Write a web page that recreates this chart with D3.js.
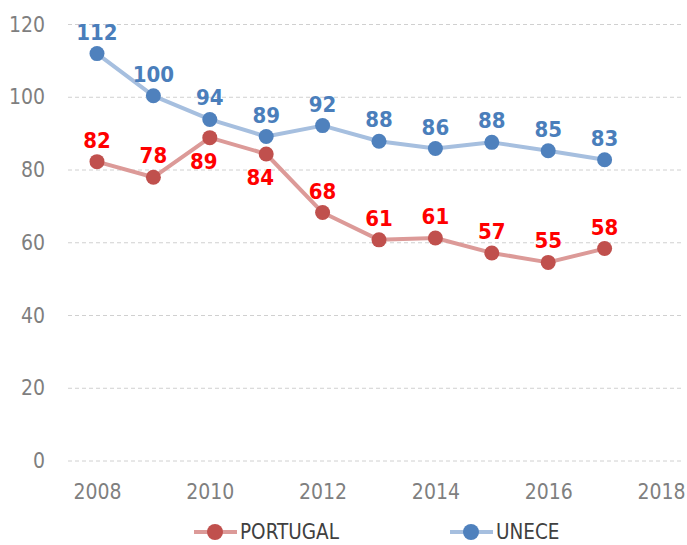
<!DOCTYPE html>
<html>
<head>
<meta charset="utf-8">
<script src="https://cdn.jsdelivr.net/npm/d3@7"></script>
<style>
  body { margin: 0; background: #fff; }
  text { font-family: "Liberation Sans Narrow", "DejaVu Sans Condensed", Arial, sans-serif; }
</style>
</head>
<body>
<div id="chart"></div>
<script>
// values
var years = [2008, 2009, 2010, 2011, 2012, 2013, 2014, 2015, 2016, 2017];
var portugal = [82.3, 78.0, 88.9, 84.4, 68.3, 60.8, 61.3, 57.2, 54.6, 58.4];
var unece = [112.0, 100.4, 93.9, 89.2, 92.2, 87.9, 85.9, 87.6, 85.3, 82.8];
var yTicks = [0, 20, 40, 60, 80, 100, 120];
var xTicks = [2008, 2010, 2012, 2014, 2016, 2018];
// label placement for portugal: below the point for 2010, 2011
var portugalBelow = [false, false, true, true, false, false, false, false, false, false];

var width = 687, height = 545;

var svg = d3.select("#chart").append("svg")
  .attr("width", width)
  .attr("height", height);

var x = d3.scaleLinear().domain([2007.486, 2018.39]).range([68, 683]);
var y = d3.scaleLinear().domain([0, 120]).range([461, 24.5]);

// gridlines
svg.append("g").selectAll("line")
  .data(yTicks)
  .enter().append("line")
  .attr("x1", x.range()[0])
  .attr("x2", x.range()[1])
  .attr("y1", function(d) { return y(d); })
  .attr("y2", function(d) { return y(d); })
  .attr("stroke", "#d0d0d0")
  .attr("stroke-width", 1)
  .attr("stroke-dasharray", "4,3");

// y axis labels
var yAxis = d3.axisLeft(y).tickValues(yTicks).tickSize(0).tickPadding(0);
svg.append("g")
  .attr("transform", "translate(45,0)")
  .call(yAxis)
  .call(function(g) { g.select(".domain").remove(); })
  .selectAll("text")
  .attr("font-size", 21)
  .attr("fill", "#7f7f7f")
  .attr("font-family", null);

// x axis labels
var xAxis = d3.axisBottom(x).tickValues(xTicks).tickFormat(d3.format("d")).tickSize(0).tickPadding(0);
svg.append("g")
  .attr("transform", "translate(0,484)")
  .call(xAxis)
  .call(function(g) { g.select(".domain").remove(); })
  .selectAll("text")
  .attr("font-size", 21)
  .attr("fill", "#7f7f7f")
  .attr("font-family", null);

var series = [
  { name: "PORTUGAL", values: portugal, line: "#dc9a98", dot: "#c0504d", label: "#ff0000", below: portugalBelow },
  { name: "UNECE", values: unece, line: "#a6bfdf", dot: "#4f81bd", label: "#4a7ebb", below: years.map(function() { return false; }) }
];

var line = d3.line()
  .x(function(d) { return x(d.year); })
  .y(function(d) { return y(d.value); });

var fmt = d3.format(".0f");

series.forEach(function(s) {
  var pts = years.map(function(yr, i) { return { year: yr, value: s.values[i], below: s.below[i] }; });

  svg.append("path")
    .datum(pts)
    .attr("fill", "none")
    .attr("stroke", s.line)
    .attr("stroke-width", 4)
    .attr("stroke-linejoin", "round")
    .attr("d", line);

  svg.append("g").selectAll("circle")
    .data(pts)
    .enter().append("circle")
    .attr("cx", function(d) { return x(d.year); })
    .attr("cy", function(d) { return y(d.value); })
    .attr("r", 7.5)
    .attr("fill", s.dot);

  svg.append("g").selectAll("text")
    .data(pts)
    .enter().append("text")
    .attr("x", function(d) { return x(d.year) - (d.below ? 6 : 0); })
    .attr("y", function(d) { return y(d.value) + (d.below ? 31 : -14); })
    .attr("text-anchor", "middle")
    .attr("font-size", 22)
    .attr("font-weight", "bold")
    .attr("fill", s.label)
    .text(function(d) { return fmt(d.value); });
});

// legend
var legend = svg.append("g").selectAll("g")
  .data(series)
  .enter().append("g")
  .attr("transform", function(d, i) { return "translate(" + (194 + i * 256) + ",532)"; });

legend.append("line")
  .attr("x1", 0).attr("x2", 43)
  .attr("stroke", function(d) { return d.line; })
  .attr("stroke-width", 4);

legend.append("circle")
  .attr("cx", 21)
  .attr("r", 8)
  .attr("fill", function(d) { return d.dot; });

legend.append("text")
  .attr("x", 46)
  .attr("dy", "0.35em")
  .attr("font-size", 20.5)
  .attr("fill", "#404040")
  .text(function(d) { return d.name; });
</script>
</body>
</html>
